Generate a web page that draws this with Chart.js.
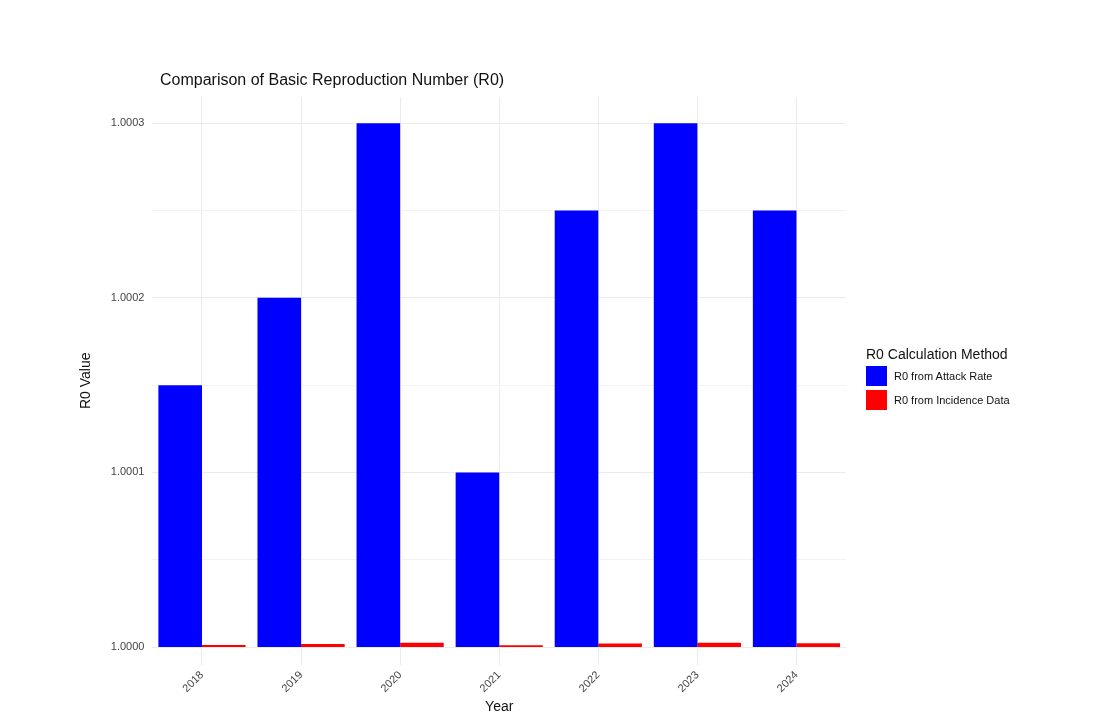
<!DOCTYPE html>
<html>
<head>
<meta charset="utf-8">
<script src="https://cdn.jsdelivr.net/npm/chart.js@4/dist/chart.umd.min.js"></script>
<style>
  body { margin: 0; background: #fff; font-family: "Liberation Sans", Arial, sans-serif; }
  #wrap { position: relative; width: 1112px; height: 720px; }
  #title { position: absolute; left: 160px; top: 71px; font-size: 16px; color: #111; }
  #legend { position: absolute; left: 866px; top: 346px; font-size: 14px; color: #111; }
  .item { display: flex; align-items: center; font-size: 11px; margin-top: 4px; }
  .sw { width: 21px; height: 20px; margin-right: 7px; }
</style>
</head>
<body>
<div id="wrap">
  <canvas id="chart" width="1112" height="720"></canvas>
  <div id="title">Comparison of Basic Reproduction Number (R0)</div>
  <div id="legend">
    <div style="margin-bottom:4px">R0 Calculation Method</div>
    <div class="item"><div class="sw" style="background:#0000ff"></div>R0 from Attack Rate</div>
    <div class="item"><div class="sw" style="background:#ff0000"></div>R0 from Incidence Data</div>
  </div>
</div>
<script>
const years = ['2018', '2019', '2020', '2021', '2022', '2023', '2024'];
const attackRate = [1.00015, 1.0002, 1.0003, 1.0001, 1.00025, 1.0003, 1.00025];
const incidence = [1.0000012, 1.0000018, 1.0000025, 1.0000011, 1.000002, 1.0000025, 1.0000022];
const yTicks = [1.0, 1.00005, 1.0001, 1.00015, 1.0002, 1.00025, 1.0003];
const yLabels = ['1.0000', '', '1.0001', '', '1.0002', '', '1.0003'];
const base = 1.0;

new Chart(document.getElementById('chart'), {
    type: 'bar',
    data: {
        labels: years,
        datasets: [
            { label: 'R0 from Attack Rate', data: attackRate.map(v => [base, v]), backgroundColor: '#0000ff' },
            { label: 'R0 from Incidence Data', data: incidence.map(v => [base, v]), backgroundColor: '#ff0000' }
        ]
    },
    options: {
        responsive: false,
        animation: false,
        layout: { padding: { left: 70, right: 266, top: 97, bottom: 4 } },
        datasets: { bar: { barPercentage: 1, categoryPercentage: 0.88 } },
        plugins: {
            legend: { display: false },
            tooltip: { enabled: false },
            title: { display: false }
        },
        scales: {
            x: {
                grid: { color: '#ebebeb', offset: false, drawTicks: false },
                border: { display: false },
                ticks: { color: '#444', font: { size: 11 }, maxRotation: 45, minRotation: 45, padding: 4 },
                title: { display: true, text: 'Year', color: '#111', font: { size: 14 }, padding: 0 }
            },
            y: {
                min: 0.99999, max: 1.000315,
                afterBuildTicks: axis => { axis.ticks = yTicks.map(v => ({ value: v })); },
                grid: { color: (c) => (c.index % 2 ? '#f3f3f3' : '#ebebeb'), drawTicks: false },
                border: { display: false },
                ticks: { color: '#444', font: { size: 11 }, padding: 8, callback: (v, i) => yLabels[i] },
                title: { display: true, text: 'R0 Value', color: '#111', font: { size: 14 }, padding: 8 }
            }
        }
    }
});
</script>
</body>
</html>
